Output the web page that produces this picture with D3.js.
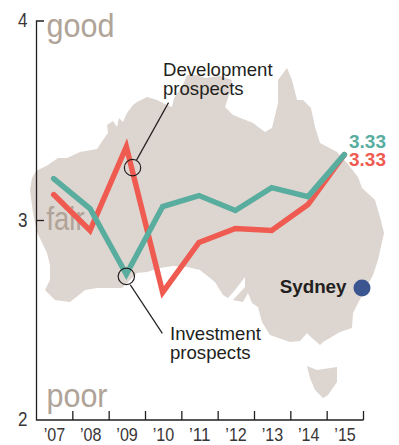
<!DOCTYPE html>
<html><head><meta charset="utf-8">
<script src="https://cdnjs.cloudflare.com/ajax/libs/d3/7.8.5/d3.min.js"></script>
<style>html,body{margin:0;padding:0;background:#fff}svg{display:block}text{font-family:"Liberation Sans",Arial,sans-serif}</style>
</head><body><svg id="c" width="399" height="445"></svg>
<script>
const years = ["’07","’08","’09","’10","’11","’12","’13","’14","’15"];
const development = [3.13,2.95,3.37,2.64,2.89,2.96,2.95,3.08,3.33];
const investment  = [3.21,3.06,2.73,3.07,3.125,3.05,3.165,3.12,3.33];
const yTicks = [2,3,4];
const moodWords = [["good",4],["fair",3],["poor",2]];
const endLabels = [["3.33",3.33,"#58AD9F"],["3.33",3.24,"#EF5B50"]];
// Coast, in map units (east, south of the map's corner)
const mainland = [[0,122],[2,110],[6,103],[18,97],[28,90],[37,90],[50,84],[67,81],[73,72],[78,65],[77,57],[83,53],[87,59],[89,50],[93,54],[97,45],[103,37],[107,34],[117,29],[127,32],[137,37],[142,39],[144,30],[153,17],[157,7],[167,7],[175,10],[190,8],[202,12],[200,24],[195,39],[203,47],[223,55],[235,64],[242,60],[248,35],[248,12],[257,0],[262,12],[267,32],[273,32],[281,40],[285,59],[290,75],[307,84],[317,95],[328,109],[332,120],[345,132],[350,149],[354,165],[348,192],[343,207],[328,235],[323,245],[322,260],[310,264],[293,274],[290,277],[282,270],[277,265],[270,273],[260,274],[240,267],[232,254],[228,239],[222,235],[218,225],[213,234],[203,232],[215,219],[215,209],[205,222],[198,230],[193,227],[185,214],[170,202],[157,199],[143,198],[130,200],[117,204],[107,205],[92,220],[67,220],[55,222],[40,234],[25,232],[15,222],[20,212],[20,197],[17,185],[7,164],[3,145]];
const tasmania = [[277,298],[287,302],[307,299],[307,314],[298,327],[293,330],[285,322],[280,310]];
const callouts = [
  {year:"’09", value:3.265, dx:6.2, lines:["Development","prospects"]},
  {year:"’09", value:2.72, dx:0, lines:["Investment","prospects"]}
];
const sydney = {name:"Sydney", east:332, south:220};

const svg = d3.select("#c");
const x = d3.scaleBand().domain(years).range([36.5,363.5]);
const y = d3.scaleLinear().domain([2,4]).range([420,21]);
const mx = d3.scaleLinear().domain([0,354]).range([30,384]);
const my = d3.scaleLinear().domain([0,330]).range([68,398]);
const ink = "#231F20", word = "#B0A398";

const coast = d3.line().x(d=>mx(d[0])).y(d=>my(d[1])).curve(d3.curveLinearClosed);
svg.selectAll("path.land").data([mainland,tasmania]).join("path")
  .attr("class","land").attr("d",coast).attr("fill","#DDD5CF");

// mood words
svg.selectAll("text.mood").data(moodWords).join("text").attr("class","mood")
  .attr("x",46.5).attr("y",d=>y(d[1])+(d[1]===4?16:d[1]===3?9.5:-13))
  .attr("font-size",33).attr("fill",word).text(d=>d[0])
  .attr("textLength",d=>({good:68,fair:38,poor:61})[d[0]]).attr("lengthAdjust","spacingAndGlyphs");

// axes
const axis = svg.append("g").attr("stroke",ink).attr("stroke-width",1.3).attr("fill","none");
axis.append("path").attr("d",`M44,${y(4)}H${x.range()[0]}V${y(2)}H${x.range()[1]}`);
axis.append("line").attr("x1",36.5).attr("x2",44).attr("y1",y(3)).attr("y2",y(3));
const edges = years.map(d=>x(d)+x.bandwidth());
axis.selectAll("line.t").data(edges).join("line").attr("class","t")
  .attr("x1",d=>d).attr("x2",d=>d).attr("y1",y(2)).attr("y2",y(2)-9);

svg.selectAll("text.yt").data(yTicks).join("text").attr("class","yt")
  .attr("x",27.5).attr("y",d=>y(d)+6).attr("text-anchor","end")
  .attr("font-size",20).attr("fill","#3a3637").attr("textLength",9.5).attr("lengthAdjust","spacingAndGlyphs").text(d=>d);
svg.selectAll("text.xt").data(years).join("text").attr("class","xt")
  .attr("x",d=>x(d)+x.bandwidth()/2-0.5-10.5).attr("y",441)
  .attr("font-size",19).attr("fill","#3a3637").attr("textLength",21.5).attr("lengthAdjust","spacingAndGlyphs").text(d=>d);

// series
const line = d3.line().x((d,i)=>x(years[i])+x.bandwidth()/2-1).y(d=>y(d));
svg.append("path").attr("d",line(development)).attr("fill","none").attr("stroke","#EF5B50")
  .attr("stroke-width",5.5).attr("stroke-linecap","round").attr("stroke-linejoin","miter").attr("stroke-miterlimit",10);
svg.append("path").attr("d",line(investment)).attr("fill","none").attr("stroke","#58AD9F")
  .attr("stroke-width",5.5).attr("stroke-linecap","round").attr("stroke-linejoin","miter").attr("stroke-miterlimit",10);

// end labels
svg.selectAll("text.end").data(endLabels).join("text").attr("class","end")
  .attr("x",349).attr("y",d=>y(d[1])-6.5).attr("font-size",19).attr("font-weight","bold")
  .attr("fill",d=>d[2]).text(d=>d[0]);

// callouts
const cx = d=>x(d.year)+x.bandwidth()/2-1+d.dx;
svg.selectAll("circle.call").data(callouts).join("circle").attr("class","call")
  .attr("cx",cx).attr("cy",d=>y(d.value)).attr("r",8.2)
  .attr("fill","none").attr("stroke",ink).attr("stroke-width",1.2);
const leaders = [[4,-7.5,36,-65],[4,8.5,36,57]];
svg.selectAll("line.lead").data(callouts).join("line").attr("class","lead")
  .attr("x1",(d,i)=>cx(d)+leaders[i][0]).attr("y1",(d,i)=>y(d.value)+leaders[i][1])
  .attr("x2",(d,i)=>cx(d)+leaders[i][2]).attr("y2",(d,i)=>y(d.value)+leaders[i][3])
  .attr("stroke",ink).attr("stroke-width",1.2);
const labelPos = [[163,75.5],[170,340]];
callouts.forEach((c,i)=>{
  svg.selectAll(null).data(c.lines).join("text")
    .attr("x",labelPos[i][0]).attr("y",(d,j)=>labelPos[i][1]+j*19.3)
    .attr("font-size",18.6).attr("fill",ink).text(d=>d);
});

// Sydney
svg.append("circle").attr("cx",mx(sydney.east)).attr("cy",my(sydney.south)).attr("r",8.5).attr("fill","#3B5590");
svg.append("text").attr("x",mx(sydney.east)-15.5).attr("y",my(sydney.south)+4.5).attr("text-anchor","end")
  .attr("font-size",18.8).attr("font-weight","bold").attr("fill",ink).text(sydney.name);
</script></body></html>
